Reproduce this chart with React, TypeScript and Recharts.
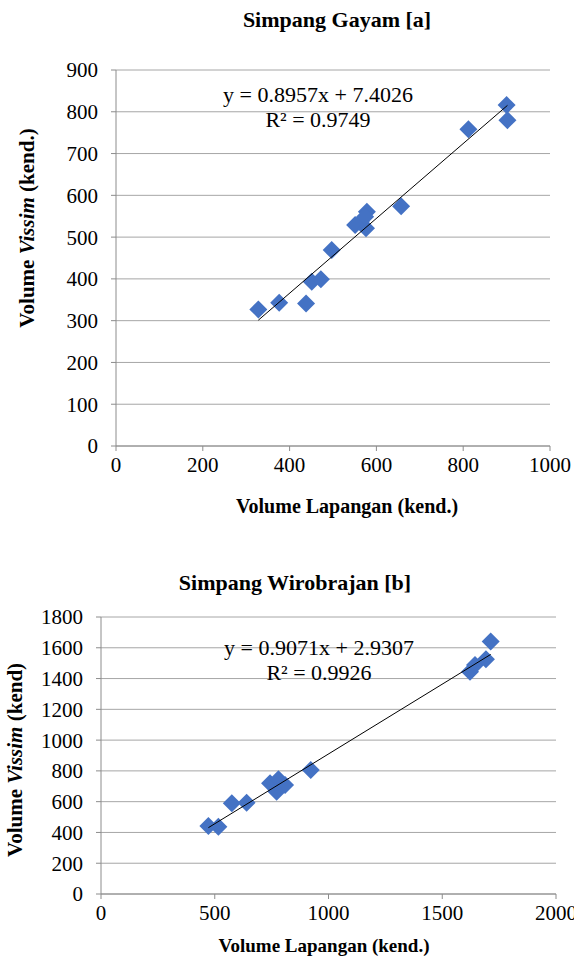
import React from 'react';
import { ScatterChart, Scatter, XAxis, YAxis, CartesianGrid } from 'recharts';

// Simpang Gayam [a]
const gayamLapangan = [328, 376, 438, 451, 472, 497, 551, 564, 576, 578, 574, 657, 812, 900, 902];
const gayamVissim = [327, 343, 341, 393, 399, 469, 529, 537, 521, 561, 549, 574, 758, 816, 780];
const gayamXTicks = [0, 200, 400, 600, 800, 1000];
const gayamYTicks = [0, 100, 200, 300, 400, 500, 600, 700, 800, 900];
const gayamFit = { slope: 0.8957, intercept: 7.4026, r2: '0.9749' };

// Simpang Wirobrajan [b]
const wiroLapangan = [472, 516, 575, 640, 743, 780, 809, 772, 922, 1622, 1644, 1692, 1713];
const wiroVissim = [442, 437, 589, 593, 719, 745, 708, 665, 806, 1445, 1488, 1525, 1640];
const wiroXTicks = [0, 500, 1000, 1500, 2000];
const wiroYTicks = [0, 200, 400, 600, 800, 1000, 1200, 1400, 1600, 1800];
const wiroFit = { slope: 0.9071, intercept: 2.9307, r2: '0.9926' };

const FONT = '"Liberation Serif", "Times New Roman", serif';
const BLUE = '#4472C4';
const GRID = '#a6a6a6';
const AXIS = '#8c8c8c';

const toPoints = (xs: number[], ys: number[]) => xs.map((x, i) => ({ x, y: ys[i] }));

// trendline endpoints from the fitted equation over the data range
const trend = (xs: number[], fit: { slope: number; intercept: number }) => {
  const lo = Math.min(...xs);
  const hi = Math.max(...xs);
  return [lo, hi].map((x) => ({ x, y: fit.slope * x + fit.intercept }));
};

const Diamond = (props: any) => {
  const { cx, cy } = props;
  if (cx == null || cy == null) return <g />;
  const r = 9;
  return <polygon points={`${cx},${cy - r} ${cx + r},${cy} ${cx},${cy + r} ${cx - r},${cy}`} fill={BLUE} />;
};

const NoDot = () => <g />;

const Txt = ({ x, y, size, bold, children, rotate }: any) => (
  <div
    style={{
      position: 'absolute',
      left: x,
      top: y,
      transform: `translate(-50%, -50%)${rotate ? ' rotate(-90deg)' : ''}`,
      fontFamily: FONT,
      fontSize: size,
      fontWeight: bold ? 'bold' : 'normal',
      whiteSpace: 'nowrap',
      lineHeight: 1,
      color: '#000',
    }}
  >
    {children}
  </div>
);

function Panel({ xs, ys, xTicks, yTicks, fit, width, height, margin, fontSize }: any) {
  const pts = toPoints(xs, ys);
  const line = trend(xs, fit);
  const tick = { fill: '#000', fontFamily: FONT, fontSize };
  return (
    <ScatterChart width={width} height={height} margin={margin}>
      <CartesianGrid vertical={false} stroke={GRID} />
      <XAxis
        type="number"
        dataKey="x"
        domain={[xTicks[0], xTicks[xTicks.length - 1]]}
        ticks={xTicks}
        height={30}
        tickSize={5}
        tickMargin={6}
        tick={tick}
        stroke={AXIS}
        interval={0}
      />
      <YAxis
        type="number"
        dataKey="y"
        domain={[yTicks[0], yTicks[yTicks.length - 1]]}
        ticks={yTicks}
        width={60}
        tickSize={5}
        tickMargin={13}
        tick={tick}
        stroke={AXIS}
        interval={0}
      />
      <Scatter data={pts} shape={Diamond} isAnimationActive={false} />
      <Scatter data={line} shape={NoDot} line={{ stroke: '#000', strokeWidth: 1 }} isAnimationActive={false} />
    </ScatterChart>
  );
}

export default function App() {
  return (
    <div style={{ position: 'absolute', left: 0, top: 0, width: 574, height: 963, background: '#fff', overflow: 'hidden' }}>
      <div style={{ position: 'absolute', left: 0, top: 0 }}>
        <Panel
          xs={gayamLapangan}
          ys={gayamVissim}
          xTicks={gayamXTicks}
          yTicks={gayamYTicks}
          fit={gayamFit}
          width={574}
          height={520}
          margin={{ top: 70, right: 24, left: 56, bottom: 44 }}
          fontSize={21}
        />
      </div>
      <div style={{ position: 'absolute', left: 0, top: 555 }}>
        <Panel
          xs={wiroLapangan}
          ys={wiroVissim}
          xTicks={wiroXTicks}
          yTicks={wiroYTicks}
          fit={wiroFit}
          width={574}
          height={408}
          margin={{ top: 62, right: 18, left: 41, bottom: 39 }}
          fontSize={21}
        />
      </div>

      <Txt x={337} y={20} size={22} bold>Simpang Gayam [a]</Txt>
      <Txt x={318} y={95} size={22}>y = {gayamFit.slope}x + {gayamFit.intercept}</Txt>
      <Txt x={318} y={120} size={22}>R² = {gayamFit.r2}</Txt>
      <Txt x={347} y={506} size={20} bold>Volume Lapangan (kend.)</Txt>
      <Txt x={27} y={228} size={21} bold rotate>Volume <i>Vissim</i> (kend.)</Txt>

      <Txt x={295} y={583} size={22} bold>Simpang Wirobrajan [b]</Txt>
      <Txt x={319} y={648} size={22}>y = {wiroFit.slope}x + {wiroFit.intercept}</Txt>
      <Txt x={319} y={673} size={22}>R² = {wiroFit.r2}</Txt>
      <Txt x={324} y={945} size={19} bold>Volume Lapangan (kend.)</Txt>
      <Txt x={15} y={760} size={21} bold rotate>Volume <i>Vissim</i> (kend)</Txt>
    </div>
  );
}
